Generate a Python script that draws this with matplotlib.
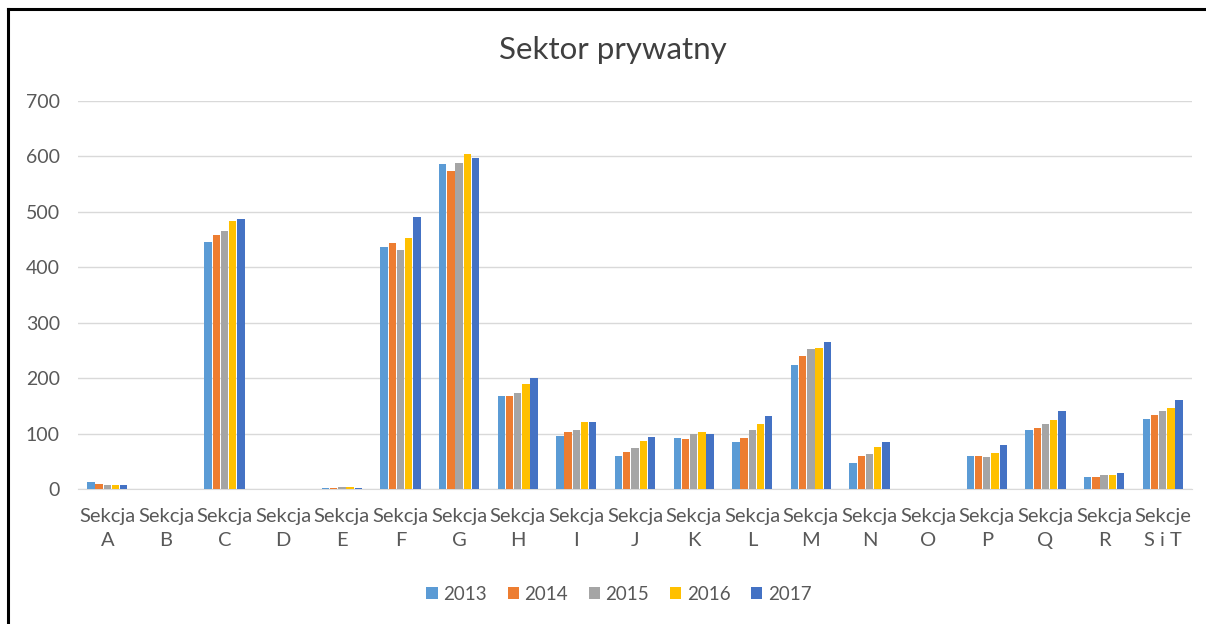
import matplotlib
matplotlib.use("Agg")
import matplotlib.pyplot as plt
from matplotlib.lines import Line2D
import numpy as np

categories = ["Sekcja\nA", "Sekcja\nB", "Sekcja\nC", "Sekcja\nD", "Sekcja\nE", "Sekcja\nF",
              "Sekcja\nG", "Sekcja\nH", "Sekcja\nI", "Sekcja\nJ", "Sekcja\nK", "Sekcja\nL",
              "Sekcja\nM", "Sekcja\nN", "Sekcja\nO", "Sekcja\nP", "Sekcja\nQ", "Sekcja\nR",
              "Sekcje\nS i T"]
years = ["2013", "2014", "2015", "2016", "2017"]
v2013 = [13, 0, 445, 0, 2, 437, 586, 168, 96, 60, 92, 85, 224, 47, 0, 59, 106, 21, 127]
v2014 = [9, 0, 458, 0, 2, 443, 573, 168, 102, 66, 90, 92, 240, 59, 0, 59, 110, 21, 134]
v2015 = [8, 0, 465, 0, 3, 431, 588, 173, 106, 74, 100, 107, 253, 63, 0, 57, 117, 25, 140]
v2016 = [7, 0, 484, 0, 3, 453, 604, 190, 121, 86, 102, 118, 255, 75, 0, 65, 125, 25, 147]
v2017 = [7, 0, 488, 0, 2, 490, 598, 200, 121, 94, 100, 132, 265, 85, 0, 80, 140, 29, 161]
series = [v2013, v2014, v2015, v2016, v2017]
colors = ["#5B9BD5", "#ED7D31", "#A5A5A5", "#FFC000", "#4472C4"]

plt.rcParams['font.family'] = ['Lato', 'DejaVu Sans']
W, H = 1206, 624
fig = plt.figure(figsize=(W / 100, H / 100), dpi=100)
ax = fig.add_axes([78 / W, 1 - 489 / H, (1192 - 78) / W, (489 - 101) / H])

x = np.arange(len(categories))
w = 0.125
step = 0.14
for i, (vals, c, y) in enumerate(zip(series, colors, years)):
    ax.bar(x + (i - 2) * step, vals, width=w, color=c, label=y, zorder=3)

ax.set_xlim(-0.5, len(categories) - 0.5)
ax.set_ylim(0, 700)
ax.set_yticks(range(0, 701, 100))
ax.set_xticks(x)
ax.set_xticklabels(categories, fontsize=14.5, color="#595959", linespacing=1.45)
ax.tick_params(axis='y', labelsize=14, colors="#595959", length=0, pad=13)
ax.tick_params(axis='x', length=0, pad=14)
ax.grid(axis='y', color="#D9D9D9", linewidth=1, zorder=0)
for s in ["top", "right", "left"]:
    ax.spines[s].set_visible(False)
ax.spines["bottom"].set_color("#D9D9D9")

fig.text(613 / W, 1 - 50 / H, "Sektor prywatny", ha='center', va='center', fontsize=22.5, color="#404040")
leg = fig.legend(loc='center', bbox_to_anchor=(619 / W, 1 - 594 / H), ncol=5, frameon=False,
                 fontsize=13.5, handlelength=0.6, handleheight=0.6, columnspacing=1.1, handletextpad=0.3)
for t in leg.get_texts():
    t.set_color("#595959")

# partial frame (top and left edges) as in the reference
fig.add_artist(Line2D([8 / W, 1.0], [1 - 9 / H, 1 - 9 / H], transform=fig.transFigure,
                      color="black", linewidth=2.2))
fig.add_artist(Line2D([8 / W, 8 / W], [0.0, 1 - 9 / H], transform=fig.transFigure,
                      color="black", linewidth=2.2))

fig.savefig("out.png", dpi=100)
